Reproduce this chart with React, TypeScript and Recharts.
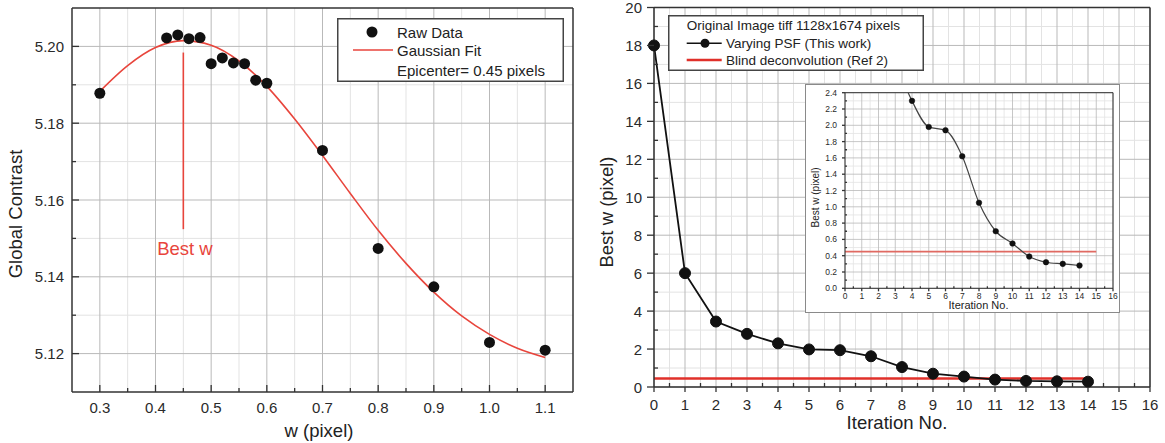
import React from 'react';
import {
  ComposedChart,
  Line,
  Scatter,
  XAxis,
  YAxis,
  CartesianGrid,
  ReferenceLine,
  ReferenceDot,
  Legend,
} from 'recharts';

const FONT = '"Liberation Sans", Arial, Helvetica, sans-serif';

// ---------- Left chart data ----------
const rawW = [0.3, 0.42, 0.44, 0.46, 0.48, 0.5, 0.52, 0.54, 0.56, 0.58, 0.6, 0.7, 0.8, 0.9, 1.0, 1.1];
const rawContrast = [5.1878, 5.2022, 5.203, 5.202, 5.2023, 5.1955, 5.197, 5.1957, 5.1955, 5.1912, 5.1904, 5.1729, 5.1474, 5.1374, 5.1229, 5.1209];
const fitW = [0.3, 0.35, 0.4, 0.45, 0.5, 0.55, 0.6, 0.65, 0.7, 0.75, 0.8, 0.85, 0.9, 0.95, 1.0, 1.05, 1.1];
const fitContrast = [5.1883, 5.195, 5.1997, 5.2015, 5.2003, 5.1962, 5.1896, 5.1811, 5.1716, 5.1617, 5.1521, 5.1435, 5.136, 5.1298, 5.125, 5.1214, 5.119];
const bestWValue = 0.45;
const bestWLineTop = 5.1984;
const bestWLineBottom = 5.1524;
const bestWTextPos = { w: 0.4528, c: 5.1474 };

const leftXMajor = [0.3, 0.4, 0.5, 0.6, 0.7, 0.8, 0.9, 1.0, 1.1];
const leftXMinor = [0.35, 0.45, 0.55, 0.65, 0.75, 0.85, 0.95, 1.05];
const leftYMajor = [5.12, 5.14, 5.16, 5.18, 5.2];
const leftYMinor = [5.13, 5.15, 5.17, 5.19];
const leftXDomain = [0.25, 1.15];
const leftYDomain = [5.11, 5.21];

// ---------- Right chart data ----------
const iterations = [0, 1, 2, 3, 4, 5, 6, 7, 8, 9, 10, 11, 12, 13, 14];
const bestW = [18, 6.0, 3.45, 2.8, 2.3, 1.98, 1.94, 1.62, 1.05, 0.7, 0.55, 0.39, 0.32, 0.3, 0.28];
const blindIterMain = [0, 14];
const blindIterInset = [0, 15];
const blindValue = 0.45;

const rightXMajor = [0, 1, 2, 3, 4, 5, 6, 7, 8, 9, 10, 11, 12, 13, 14, 15, 16];
const rightXMinor = [0.5, 1.5, 2.5, 3.5, 4.5, 5.5, 6.5, 7.5, 8.5, 9.5, 10.5, 11.5, 12.5, 13.5, 14.5, 15.5];
const rightYMajor = [0, 2, 4, 6, 8, 10, 12, 14, 16, 18, 20];
const rightYMinor = [1, 3, 5, 7, 9, 11, 13, 15, 17, 19];

const insetYMajor = [0, 0.2, 0.4, 0.6, 0.8, 1.0, 1.2, 1.4, 1.6, 1.8, 2.0, 2.2, 2.4];
const insetYMinor = [0.1, 0.3, 0.5, 0.7, 0.9, 1.1, 1.3, 1.5, 1.7, 1.9, 2.1, 2.3];

const leftRaw = rawW.map((w, i) => ({ w, c: rawContrast[i] }));
const leftFit = fitW.map((w, i) => ({ w, c: fitContrast[i] }));
const mainSeries = iterations.map((it, i) => ({ it, bw: bestW[i] }));
const blindMain = blindIterMain.map((it) => ({ it, bw: blindValue }));
const blindInset = blindIterInset.map((it) => ({ it, bw: blindValue }));

const sortNum = (a: number[]) => [...a].sort((x, y) => x - y);

type TickOpts = {
  orient: 'left' | 'bottom';
  axis: number;
  majors: number[];
  fmt: (v: number) => string;
  majorLen: number;
  minorLen: number;
  majorIn: boolean;
  minorIn: boolean;
  gap: number;
  fontSize: number;
};

function makeTick(o: TickOpts) {
  return (props: any) => {
    const v = Number(props.payload?.value);
    const major = o.majors.some((m) => Math.abs(m - v) < 1e-7);
    const len = major ? o.majorLen : o.minorLen;
    const inward = major ? o.majorIn : o.minorIn;
    if (o.orient === 'left') {
      const y = props.y;
      const x2 = inward ? o.axis + len : o.axis - len;
      return (
        <g>
          <line x1={o.axis} y1={y} x2={x2} y2={y} stroke="#333" strokeWidth={1.3} />
          {major && (
            <text x={o.axis - o.gap} y={y} textAnchor="end" dominantBaseline="central" fontSize={o.fontSize} fontFamily={FONT} fill="#2a2a2a">
              {o.fmt(v)}
            </text>
          )}
        </g>
      );
    }
    const x = props.x;
    const y2 = inward ? o.axis - len : o.axis + len;
    return (
      <g>
        <line x1={x} y1={o.axis} x2={x} y2={y2} stroke="#333" strokeWidth={1.3} />
        {major && (
          <text x={x} y={o.axis + o.gap} textAnchor="middle" dominantBaseline="central" fontSize={o.fontSize} fontFamily={FONT} fill="#2a2a2a">
            {o.fmt(v)}
          </text>
        )}
      </g>
    );
  };
}

const titleText = (x: number, y: number, text: string, size: number, rotate = false) => () => (
  <text
    x={x}
    y={y}
    transform={rotate ? `rotate(-90 ${x} ${y})` : undefined}
    textAnchor="middle"
    dominantBaseline="central"
    fontSize={size}
    fontFamily={FONT}
    fill="#222"
  >
    {text}
  </text>
);

const MAJOR_GRID = '#b9b9b9';
const MINOR_GRID = '#e3e3e3';

function LeftLegend() {
  return (
    <svg width={227} height={64} style={{ display: 'block' }}>
      <rect x={0.75} y={0.75} width={225.5} height={62.5} fill="#fff" stroke="#444" strokeWidth={1.5} />
      <circle cx={35} cy={14} r={5.5} fill="#111" />
      <text x={60} y={14} dominantBaseline="central" fontSize={15} fontFamily={FONT} fill="#222">Raw Data</text>
      <line x1={16} y1={32} x2={56} y2={32} stroke="#e8453c" strokeWidth={1.5} />
      <text x={60} y={32} dominantBaseline="central" fontSize={15} fontFamily={FONT} fill="#222">Gaussian Fit</text>
      <text x={60} y={52} dominantBaseline="central" fontSize={15} fontFamily={FONT} fill="#222">Epicenter= 0.45 pixels</text>
    </svg>
  );
}

function RightLegend() {
  return (
    <svg width={256} height={56} style={{ display: 'block' }}>
      <rect x={0.75} y={0.75} width={254.5} height={54.5} fill="#fff" stroke="#444" strokeWidth={1.5} />
      <text x={18.7} y={10.7} dominantBaseline="central" fontSize={13.5} fontFamily={FONT} fill="#222">Original Image tiff 1128x1674 pixels</text>
      <line x1={18.7} y1={28.3} x2={53.7} y2={28.3} stroke="#111" strokeWidth={1.5} />
      <circle cx={37} cy={28.3} r={4.5} fill="#111" />
      <text x={58} y={28.3} dominantBaseline="central" fontSize={13.5} fontFamily={FONT} fill="#222">Varying PSF (This work)</text>
      <line x1={18.7} y1={45} x2={53.7} y2={45} stroke="#e0302a" strokeWidth={2.5} />
      <text x={58} y={45} dominantBaseline="central" fontSize={13.5} fontFamily={FONT} fill="#222">Blind deconvolution (Ref 2)</text>
    </svg>
  );
}

function LeftChart() {
  return (
    <ComposedChart width={580} height={443} margin={{ top: 8, right: 7, bottom: 0, left: 0 }}>
      <CartesianGrid stroke={MINOR_GRID} strokeWidth={1} verticalValues={leftXMinor} horizontalValues={leftYMinor} />
      <CartesianGrid stroke={MAJOR_GRID} strokeWidth={1} verticalValues={leftXMajor} horizontalValues={leftYMajor} />
      <XAxis
        type="number"
        dataKey="w"
        domain={leftXDomain}
        ticks={sortNum([...leftXMajor, ...leftXMinor])}
        interval={0}
        height={51}
        tickSize={0}
        tickLine={false}
        axisLine={{ stroke: '#333', strokeWidth: 1.5 }}
        tick={makeTick({ orient: 'bottom', axis: 392, majors: leftXMajor, fmt: (v) => v.toFixed(1), majorLen: 7, minorLen: 4, majorIn: true, minorIn: true, gap: 15, fontSize: 15 })}
        label={{ content: titleText(319, 430, 'w (pixel)', 18.5) }}
      />
      <YAxis
        type="number"
        dataKey="c"
        domain={leftYDomain}
        ticks={sortNum([...leftYMajor, ...leftYMinor])}
        interval={0}
        width={72}
        tickSize={0}
        tickLine={false}
        axisLine={{ stroke: '#333', strokeWidth: 1.5 }}
        tick={makeTick({ orient: 'left', axis: 72, majors: leftYMajor, fmt: (v) => v.toFixed(2), majorLen: 7, minorLen: 4, majorIn: true, minorIn: true, gap: 8, fontSize: 15 })}
        label={{ content: titleText(15, 214, 'Global Contrast', 18.5, true) }}
      />
      <ReferenceLine y={leftYDomain[1]} stroke="#333" strokeWidth={1.5} />
      <ReferenceLine x={leftXDomain[1]} stroke="#333" strokeWidth={1.5} />
      <Line data={leftFit} dataKey="c" type="monotone" stroke="#e8453c" strokeWidth={1.6} dot={false} isAnimationActive={false} />
      <Scatter
        data={leftRaw}
        dataKey="c"
        isAnimationActive={false}
        shape={(p: any) => <circle cx={p.cx} cy={p.cy} r={5.5} fill="#111" />}
      />
      <ReferenceLine
        segment={[{ x: bestWValue, y: bestWLineTop }, { x: bestWValue, y: bestWLineBottom }]}
        stroke="#e8453c"
        strokeWidth={1.6}
      />
      <ReferenceDot
        x={bestWTextPos.w}
        y={bestWTextPos.c}
        r={1}
        shape={(p: any) => (
          <text x={p.cx} y={p.cy} textAnchor="middle" dominantBaseline="central" fontSize={18.5} fontFamily={FONT} fill="#e8453c">
            Best w
          </text>
        )}
      />
      <Legend
        layout="vertical"
        align="center"
        verticalAlign="middle"
        content={() => <LeftLegend />}
        wrapperStyle={{ position: 'absolute', left: 337, top: 18, width: 227, height: 64 }}
      />
    </ComposedChart>
  );
}

function RightChart() {
  return (
    <ComposedChart width={575} height={443} margin={{ top: 7.5, right: 15, bottom: 0, left: 0 }}>
      <CartesianGrid stroke={MINOR_GRID} strokeWidth={1} verticalValues={rightXMinor} horizontalValues={rightYMinor} />
      <CartesianGrid stroke={MAJOR_GRID} strokeWidth={1} verticalValues={rightXMajor} horizontalValues={rightYMajor} />
      <XAxis
        type="number"
        dataKey="it"
        domain={[0, 16]}
        ticks={sortNum([...rightXMajor, ...rightXMinor])}
        interval={0}
        height={56}
        tickSize={0}
        tickLine={false}
        axisLine={{ stroke: '#333', strokeWidth: 1.5 }}
        tick={makeTick({ orient: 'bottom', axis: 387, majors: rightXMajor, fmt: (v) => String(v), majorLen: 5, minorLen: 4, majorIn: false, minorIn: true, gap: 17, fontSize: 15 })}
        label={{ content: titleText(307, 422, 'Iteration No.', 18.5) }}
      />
      <YAxis
        type="number"
        dataKey="bw"
        domain={[0, 20]}
        ticks={sortNum([...rightYMajor, ...rightYMinor])}
        interval={0}
        width={64}
        tickSize={0}
        tickLine={false}
        axisLine={{ stroke: '#333', strokeWidth: 1.5 }}
        tick={makeTick({ orient: 'left', axis: 64, majors: rightYMajor, fmt: (v) => String(v), majorLen: 7, minorLen: 4, majorIn: false, minorIn: true, gap: 12, fontSize: 15 })}
        label={{ content: titleText(16.5, 212, 'Best w (pixel)', 18.5, true) }}
      />
      <ReferenceLine y={20} stroke="#333" strokeWidth={1.5} />
      <ReferenceLine x={16} stroke="#333" strokeWidth={1.5} />
      <Line data={blindMain} dataKey="bw" type="linear" stroke="#e0302a" strokeWidth={2.5} dot={false} isAnimationActive={false} />
      <Line
        data={mainSeries}
        dataKey="bw"
        type="linear"
        stroke="#111"
        strokeWidth={1.8}
        dot={{ r: 5.5, fill: '#111', stroke: '#111', strokeWidth: 1 }}
        isAnimationActive={false}
      />
      <Legend
        layout="vertical"
        align="center"
        verticalAlign="middle"
        content={() => <RightLegend />}
        wrapperStyle={{ position: 'absolute', left: 78, top: 15, width: 256, height: 56 }}
      />
    </ComposedChart>
  );
}

function InsetChart() {
  return (
    <ComposedChart width={313} height={227} margin={{ top: 7.7, right: 6, bottom: 0, left: 0 }}>
      <CartesianGrid stroke={MINOR_GRID} strokeWidth={0.8} verticalValues={rightXMinor} horizontalValues={insetYMinor} />
      <CartesianGrid stroke={MAJOR_GRID} strokeWidth={0.8} verticalValues={rightXMajor} horizontalValues={insetYMajor} />
      <XAxis
        type="number"
        dataKey="it"
        domain={[0, 16]}
        ticks={sortNum([...rightXMajor, ...rightXMinor])}
        interval={0}
        height={23.7}
        tickSize={0}
        tickLine={false}
        axisLine={{ stroke: '#333', strokeWidth: 1 }}
        tick={makeTick({ orient: 'bottom', axis: 203.3, majors: rightXMajor, fmt: (v) => String(v), majorLen: 3, minorLen: 2, majorIn: false, minorIn: true, gap: 8, fontSize: 8.5 })}
        label={{ content: titleText(172.5, 220, 'Iteration No.', 11) }}
      />
      <YAxis
        type="number"
        dataKey="bw"
        domain={[0, 2.4]}
        allowDataOverflow
        ticks={sortNum([...insetYMajor, ...insetYMinor])}
        interval={0}
        width={39}
        tickSize={0}
        tickLine={false}
        axisLine={{ stroke: '#333', strokeWidth: 1 }}
        tick={makeTick({ orient: 'left', axis: 39, majors: insetYMajor, fmt: (v) => v.toFixed(1), majorLen: 3, minorLen: 2, majorIn: false, minorIn: true, gap: 8, fontSize: 8.5 })}
        label={{ content: titleText(9, 112.5, 'Best w (pixel)', 10, true) }}
      />
      <ReferenceLine y={2.4} stroke="#333" strokeWidth={1} />
      <ReferenceLine x={16} stroke="#333" strokeWidth={1} />
      <Line data={blindInset} dataKey="bw" type="linear" stroke="#e06a62" strokeWidth={1.6} dot={false} isAnimationActive={false} />
      <Line
        data={mainSeries}
        dataKey="bw"
        type="monotone"
        stroke="#444"
        strokeWidth={1.2}
        dot={{ r: 2.8, fill: '#111', stroke: '#111', strokeWidth: 0.5 }}
        isAnimationActive={false}
      />
    </ComposedChart>
  );
}

export default function App() {
  return (
    <div style={{ position: 'absolute', left: 0, top: 0, width: 1165, height: 443, background: '#fff', fontFamily: FONT }}>
      <div style={{ position: 'absolute', left: 0, top: 0 }}>
        <LeftChart />
      </div>
      <div style={{ position: 'absolute', left: 590, top: 0 }}>
        <RightChart />
      </div>
      <div
        style={{
          position: 'absolute',
          left: 806,
          top: 85,
          width: 313,
          height: 227,
          background: '#fff',
          outline: '1px solid #8a8a8a',
        }}
      >
        <InsetChart />
      </div>
    </div>
  );
}
